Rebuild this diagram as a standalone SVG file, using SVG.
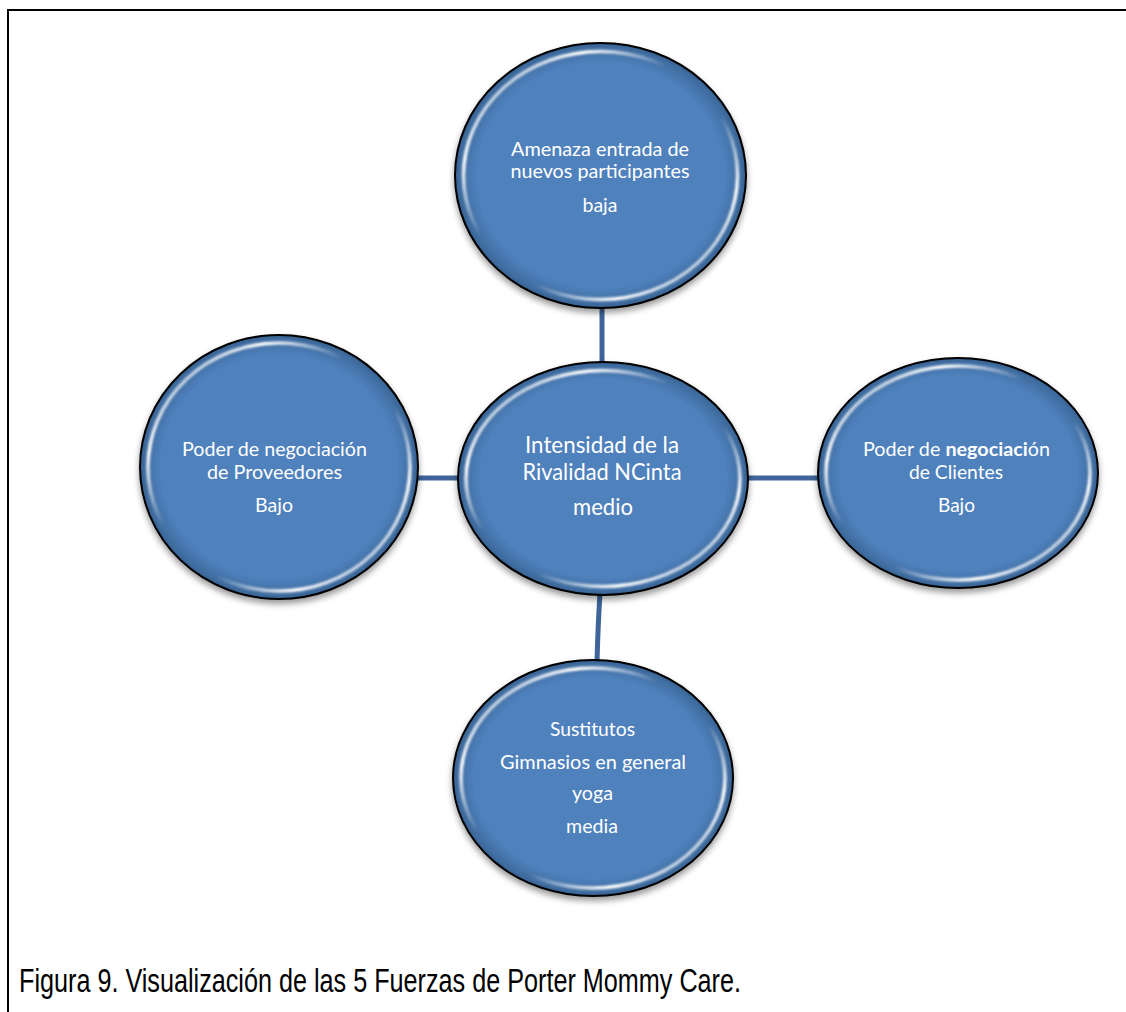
<svg xmlns="http://www.w3.org/2000/svg" width="1126" height="1012" viewBox="0 0 1126 1012">
<defs>
<filter id="sh" x="-20%" y="-20%" width="140%" height="150%">
<feDropShadow dx="0" dy="4" stdDeviation="3" flood-color="#000" flood-opacity="0.4"/>
</filter>
<filter id="bl" x="-10%" y="-10%" width="120%" height="120%">
<feGaussianBlur stdDeviation="1.3"/>
</filter>
<radialGradient id="body" cx="50%" cy="50%" r="50%">
<stop offset="0" stop-color="#4F81BD"/>
<stop offset="0.85" stop-color="#4F81BD"/>
<stop offset="0.97" stop-color="#3F6C9F"/>
<stop offset="1" stop-color="#355E8E"/>
</radialGradient>
<linearGradient id="gl" x1="0" y1="0" x2="1" y2="1">
<stop offset="0" stop-color="#fff" stop-opacity="0"/>
<stop offset="0.22" stop-color="#fff" stop-opacity="1"/>
<stop offset="0.4" stop-color="#fff" stop-opacity="0"/>
<stop offset="0.6" stop-color="#fff" stop-opacity="0"/>
<stop offset="0.78" stop-color="#fff" stop-opacity="1"/>
<stop offset="1" stop-color="#fff" stop-opacity="0"/>
</linearGradient>
</defs>
<style>
.ring{fill:url(#body);stroke:#000;stroke-width:2;filter:url(#sh)}
.gl{fill:none;stroke:url(#gl);stroke-width:3.5;filter:url(#bl)}
.t{font-family:Lato,"Open Sans","DejaVu Sans",sans-serif;fill:#fff;text-anchor:middle;font-size:19px}
.tc{font-size:23px}
.con{stroke:#3E6499;stroke-width:5;fill:none}
.frame{stroke:#000;stroke-width:2;fill:none}
.cap{font-family:"Liberation Sans",Arial,sans-serif;font-size:33px;fill:#000}
</style>
<rect width="1126" height="1012" fill="#fff"/>
<path class="frame" d="M1126 10 H8 V1012"/>

<g id="connectors">
<line class="con" x1="602" y1="306" x2="602" y2="364"/>
<line class="con" x1="416" y1="478" x2="460" y2="478"/>
<line class="con" x1="746" y1="478" x2="820" y2="478"/>
<path class="con" d="M600 593 Q598 625 597 662"/>
</g>

<g id="node-top">
<ellipse class="ring" cx="600.5" cy="175.5" rx="145.5" ry="132.5"/>
<ellipse class="gl" cx="600.5" cy="175.5" rx="137" ry="124"/>
<text class="t" x="600" y="156" textLength="178" lengthAdjust="spacingAndGlyphs">Amenaza entrada de</text>
<text class="t" x="600" y="178" textLength="179" lengthAdjust="spacingAndGlyphs">nuevos participantes</text>
<text class="t" x="600" y="212" textLength="35" lengthAdjust="spacingAndGlyphs">baja</text>
</g>

<g id="node-center">
<ellipse class="ring" cx="603" cy="478.5" rx="145" ry="116.5"/>
<ellipse class="gl" cx="603" cy="478.5" rx="137" ry="108"/>
<text class="t tc" x="602" y="453" textLength="154" lengthAdjust="spacingAndGlyphs">Intensidad de la</text>
<text class="t tc" x="602" y="480" textLength="159" lengthAdjust="spacingAndGlyphs">Rivalidad NCinta</text>
<text class="t tc" x="603" y="515" textLength="60" lengthAdjust="spacingAndGlyphs">medio</text>
</g>

<g id="node-left">
<ellipse class="ring" cx="279" cy="467" rx="139" ry="132"/>
<ellipse class="gl" cx="279" cy="467" rx="131" ry="124"/>
<text class="t" x="274.5" y="456" textLength="185" lengthAdjust="spacingAndGlyphs">Poder de negociación</text>
<text class="t" x="274.5" y="479" textLength="135" lengthAdjust="spacingAndGlyphs">de Proveedores</text>
<text class="t" x="274" y="512" textLength="38" lengthAdjust="spacingAndGlyphs">Bajo</text>
</g>

<g id="node-right">
<ellipse class="ring" cx="958" cy="473" rx="140" ry="115"/>
<ellipse class="gl" cx="958" cy="473" rx="132" ry="107"/>
<text class="t" x="956.5" y="456" textLength="187" lengthAdjust="spacingAndGlyphs">Poder de <tspan font-weight="bold">negociaci</tspan>ón</text>
<text class="t" x="956" y="479" textLength="94" lengthAdjust="spacingAndGlyphs">de Clientes</text>
<text class="t" x="956.5" y="512" textLength="37" lengthAdjust="spacingAndGlyphs">Bajo</text>
</g>

<g id="node-bottom">
<ellipse class="ring" cx="593" cy="778" rx="140" ry="118"/>
<ellipse class="gl" cx="593" cy="778" rx="132" ry="110"/>
<text class="t" x="592.5" y="736" textLength="85" lengthAdjust="spacingAndGlyphs">Sustitutos</text>
<text class="t" x="593" y="769" textLength="186" lengthAdjust="spacingAndGlyphs">Gimnasios en general</text>
<text class="t" x="592.5" y="800" textLength="41" lengthAdjust="spacingAndGlyphs">yoga</text>
<text class="t" x="592" y="833" textLength="52" lengthAdjust="spacingAndGlyphs">media</text>
</g>

<text class="cap" x="19" y="992" textLength="722" lengthAdjust="spacingAndGlyphs">Figura 9. Visualización de las 5 Fuerzas de Porter Mommy Care.</text>
</svg>
